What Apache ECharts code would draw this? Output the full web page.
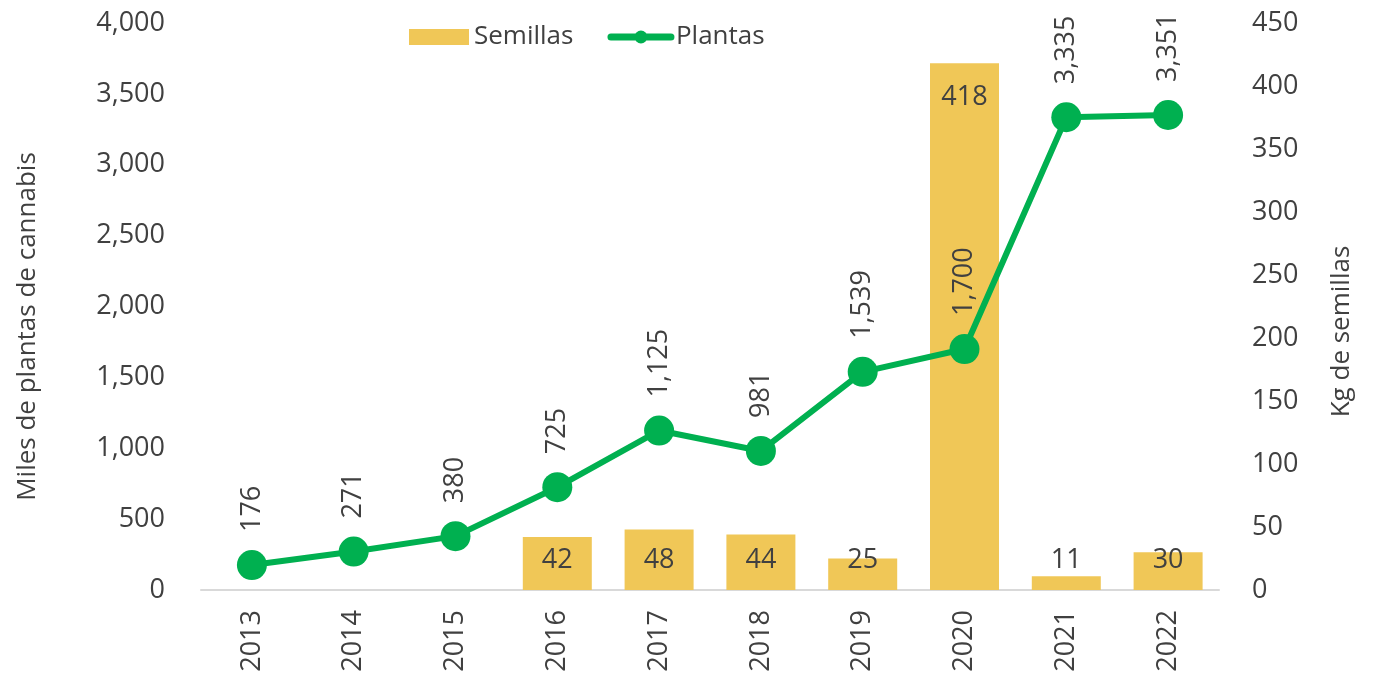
<!DOCTYPE html>
<html>
<head>
<meta charset="utf-8">
<script src="https://cdn.jsdelivr.net/npm/echarts@6/dist/echarts.min.js"></script>
<style>
  html, body { margin: 0; padding: 0; background: #ffffff; }
  #chart { width: 1375px; height: 680px; }
</style>
</head>
<body>
<div id="chart"></div>
<script>
// Years on the category axis
const years = ['2013', '2014', '2015', '2016', '2017', '2018', '2019', '2020', '2021', '2022'];
// Seized seeds, kg (right axis); no value for the first three years
const semillas = [null, null, null, 42, 48, 44, 25, 418, 11, 30];
// Seized plants, thousands (left axis)
const plantas = [176, 271, 380, 725, 1125, 981, 1539, 1700, 3335, 3351];

const FONT = '"Open Sans", "Noto Sans", sans-serif';
const TXT = '#404040';
const GREEN = '#00B050';
const GOLD = '#F0C757';
const fmt = v => Number(v).toLocaleString('en-US');

const chart = echarts.init(document.getElementById('chart'));

const seedData = semillas.map(v => {
  if (v === null) return null;
  // the tallest bar carries its label just inside its top edge
  if (v > 200) {
    return { value: v, label: { position: 'insideTop', distance: 20 } };
  }
  return v;
});

chart.setOption({
  animation: false,
  textStyle: { fontFamily: FONT, color: TXT },
  legend: {
    left: 404,
    top: 19,
    itemWidth: 60,
    itemHeight: 16,
    itemGap: 34,
    textStyle: { fontFamily: FONT, fontSize: 26, color: TXT },
    data: [
      { name: 'Semillas', icon: 'rect', itemStyle: { color: GOLD } },
      { name: 'Plantas', itemStyle: { color: GREEN }, lineStyle: { color: GREEN, width: 7, cap: 'round' } }
    ]
  },
  grid: { left: 201, right: 156, top: 23, bottom: 90, containLabel: false },
  xAxis: {
    type: 'category',
    data: years,
    axisLine: { show: true, lineStyle: { color: '#d9d9d9', width: 2 } },
    axisTick: { show: false },
    axisLabel: {
      rotate: 90,
      margin: 20,
      fontSize: 27,
      color: TXT,
      fontFamily: FONT
    }
  },
  yAxis: [
    {
      type: 'value',
      min: 0,
      max: 4000,
      interval: 500,
      name: 'Miles de plantas de cannabis',
      nameLocation: 'middle',
      nameRotate: 90,
      nameGap: 160,
      nameTextStyle: { fontSize: 26, color: TXT, fontFamily: FONT, padding: [0, 40, 0, 0] },
      splitLine: { show: false },
      axisLine: { show: false },
      axisTick: { show: false },
      axisLabel: {
        margin: 36,
        fontSize: 27,
        color: TXT,
        fontFamily: FONT,
        formatter: v => fmt(v)
      }
    },
    {
      type: 'value',
      min: 0,
      max: 450,
      interval: 50,
      position: 'right',
      name: 'Kg de semillas',
      nameLocation: 'middle',
      nameRotate: 90,
      nameGap: 110,
      nameTextStyle: { fontSize: 26, color: TXT, fontFamily: FONT, padding: [0, 50, 0, 0] },
      splitLine: { show: false },
      axisLine: { show: false },
      axisTick: { show: false },
      axisLabel: {
        margin: 33,
        fontSize: 27,
        color: TXT,
        fontFamily: FONT
      }
    }
  ],
  series: [
    {
      name: 'Semillas',
      type: 'bar',
      yAxisIndex: 1,
      data: seedData,
      barWidth: 69,
      itemStyle: { color: GOLD },
      label: {
        show: true,
        position: 'insideBottom',
        distance: 16,
        fontSize: 27,
        color: TXT,
        fontFamily: FONT
      },
      z: 1
    },
    {
      name: 'Plantas',
      type: 'line',
      yAxisIndex: 0,
      data: plantas,
      symbol: 'circle',
      symbolSize: 30,
      lineStyle: { color: GREEN, width: 6 },
      itemStyle: { color: GREEN },
      label: {
        show: true,
        position: 'top',
        distance: 18,
        rotate: 90,
        align: 'left',
        verticalAlign: 'middle',
        fontSize: 27,
        color: TXT,
        fontFamily: FONT,
        formatter: p => fmt(p.value)
      },
      z: 3
    }
  ]
});
</script>
</body>
</html>
